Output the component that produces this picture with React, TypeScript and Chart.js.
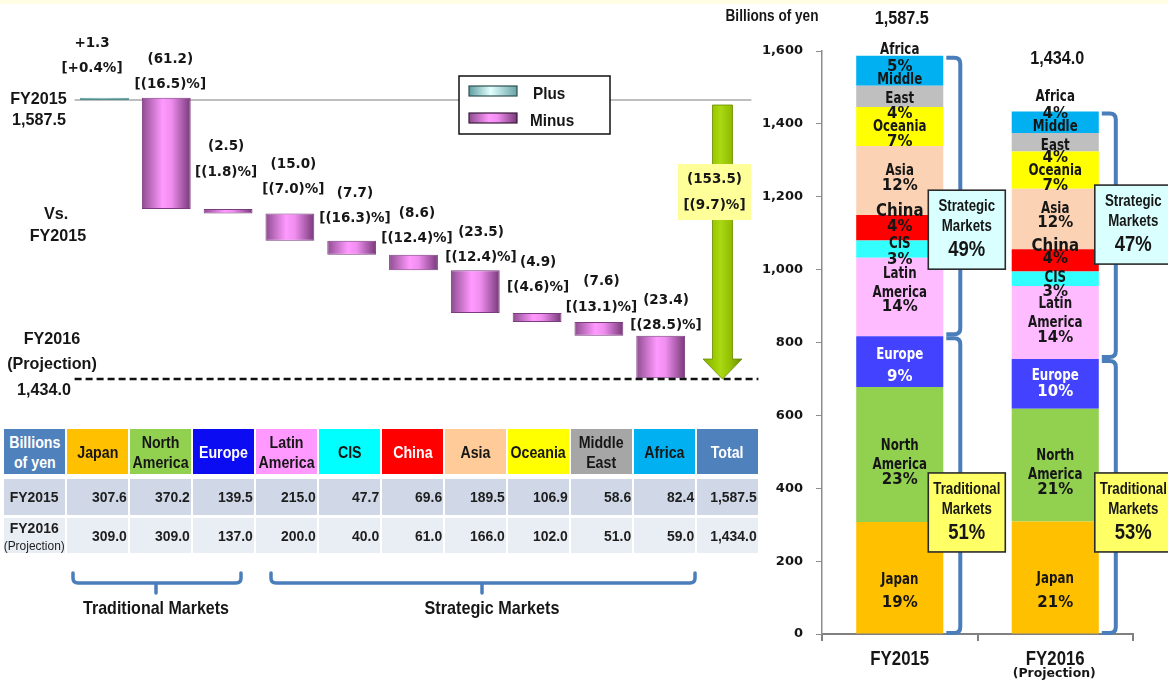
import React, { useEffect, useRef } from "react";
import { Chart, registerables } from "chart.js";

Chart.register(...registerables);

// ---------- Data ----------
// Regions in stacking / table order
const regions = ["Japan", "North America", "Europe", "Latin America", "CIS", "China", "Asia", "Oceania", "Middle East", "Africa"];
const fiscalYears = ["FY2015", "FY2016"];

// Net sales by region (billions of yen)
const sales2015 = [307.6, 370.2, 139.5, 215.0, 47.7, 69.6, 189.5, 106.9, 58.6, 82.4];
const sales2016 = [309.0, 309.0, 137.0, 200.0, 40.0, 61.0, 166.0, 102.0, 51.0, 59.0];
const total2015 = 1587.5;
const total2016 = 1434.0;

// Change vs. FY2015 by region
const changes = [1.3, -61.2, -2.5, -15.0, -7.7, -8.6, -23.5, -4.9, -7.6, -23.4];
const changeRates = ["+0.4%", "(16.5)%", "(1.8)%", "(7.0)%", "(16.3)%", "(12.4)%", "(12.4)%", "(4.6)%", "(13.1)%", "(28.5)%"];
const totalChange = -153.5;
const totalChangeRate = "(9.7)%";

// Share of total sales (%)
const share2015 = [19, 23, 9, 14, 3, 4, 12, 7, 4, 5];
const share2016 = [21, 21, 10, 14, 3, 4, 12, 7, 4, 4];
const traditionalShare = [51, 53];
const strategicShare = [49, 47];
const traditionalCount = 3; // Japan, North America, Europe

// Value axis
const yAxisMax = 1600;
const yAxisStep = 200;

// ---------- Styles ----------
const ARIAL = '"Liberation Sans", Arial, sans-serif';
const VERDANA = '"DejaVu Sans", Verdana, sans-serif';
const INK = "#161616";
const BRACE = "#4A7EBB";

const segmentColors = ["#FFC000", "#92D050", "#4343FF", "#FFBBFF", "#33FFFF", "#FF0000", "#FBD3B4", "#FFFF00", "#BFBFBF", "#00B0F0"];
const segmentInk = [INK, INK, "#FFFFFF", INK, INK, INK, INK, INK, INK, INK];
const headerColors = ["#FFC000", "#92D050", "#0C0CF2", "#FF99FF", "#00FFFF", "#FF0000", "#FFCC99", "#FFFF00", "#A6A6A6", "#00B0F0"];
const headerInk = [INK, INK, "#FFFFFF", INK, INK, "#FFFFFF", INK, INK, INK, INK];
const segmentNameLines = [["Japan"], ["North", "America"], ["Europe"], ["Latin", "America"], ["CIS"], ["China"], ["Asia"], ["Oceania"], ["Middle", "East"], ["Africa"]];

// Label placement (pixel offsets from each segment's centre, one per text line)
const segLabelDy = [
  [[2, 25], [-8.5, 10.5, 25.5], [-6.6, 15.4], [-23, -4, 10], [-5, 11], [-15.8, -0.8], [-9.6, 5.4], [0.4, 15.4], [-16.4, 2.6, 17.6], [-20.7, -3.7]],
  [[1.3, 25.3], [-9, 10, 25], [-8, 8], [-18.5, 0.5, 15.5], [-0.7, 13.3], [-13.3, -1.3], [-10, 4], [0.8, 15.8], [-15.3, 3.7, 15.7], [-25.2, -8.2]],
];
// Waterfall value label nudges: [dx from bar centre, dy from bar top]
const wfLabelNudge = [[-12.5, -54.6], [4, -38.6], [-2, -62], [3.5, -49.4], [3.3, -47.7], [3.5, -41.7], [5.7, -38.3], [1, -51], [2.6, -40], [5.3, -35.7]];

const WF_BAR_PCT = 0.79;
const plusStops: [number, string][] = [[0, "#5E9EA0"], [0.45, "#E2FFFF"], [1, "#67A3A6"]];
const minusStops: [number, string][] = [[0, "#8E4C90"], [0.42, "#FF99FF"], [0.6, "#F08EF0"], [1, "#763878"]];
const arrowStops: [number, string][] = [[0, "#86AE00"], [0.3, "#9DCC00"], [0.45, "#AAD814"], [0.7, "#94C000"], [1, "#6A8C00"]];

const fmt1 = (v: number) => v.toLocaleString("en-US", { minimumFractionDigits: 1, maximumFractionDigits: 1 });
const fmtChange = (c: number) => (c > 0 ? `+${c.toFixed(1)}` : `(${Math.abs(c).toFixed(1)})`);

function makeGradient(ctx: CanvasRenderingContext2D, x0: number, x1: number, stops: [number, string][]) {
  const g = ctx.createLinearGradient(x0, 0, x1, 0);
  stops.forEach(([o, c]) => g.addColorStop(o, c));
  return g;
}

function drawText(ctx: CanvasRenderingContext2D, text: string, x: number, y: number, font: string, color: string, sx = 1, align: CanvasTextAlign = "center") {
  ctx.save();
  ctx.font = font;
  ctx.fillStyle = color;
  ctx.textAlign = align;
  ctx.textBaseline = "middle";
  ctx.translate(x, y);
  ctx.scale(sx, 1);
  ctx.fillText(text, 0, 0);
  ctx.restore();
}

// ---------- Waterfall (change vs. FY2015) ----------
const wfCategories = [...regions, "Total"];

function buildFloating() {
  const out: ([number, number] | null)[] = [];
  let level = total2015;
  changes.forEach((c) => {
    out.push([level, level + c]);
    level += c;
  });
  out.push(null);
  return out;
}

const waterfallDecor = {
  id: "waterfallDecor",
  beforeDatasetsDraw(chart: any) {
    const { ctx, chartArea: a, scales } = chart;
    const yTop = scales.y.getPixelForValue(total2015);
    ctx.save();
    ctx.strokeStyle = "#A8A8A8";
    ctx.lineWidth = 1.5;
    ctx.beginPath();
    ctx.moveTo(a.left + 1, yTop);
    ctx.lineTo(a.right - 2, yTop);
    ctx.stroke();
    ctx.restore();
  },
  afterDatasetsDraw(chart: any) {
    const { ctx, chartArea: a, scales } = chart;
    const { x, y } = scales;
    const meta = chart.getDatasetMeta(0);
    const yStartTotal = y.getPixelForValue(total2015);
    const yEndTotal = y.getPixelForValue(total2016);

    // FY2016 level
    ctx.save();
    ctx.strokeStyle = "#111";
    ctx.lineWidth = 2.5;
    ctx.setLineDash([7, 4]);
    ctx.beginPath();
    ctx.moveTo(a.left + 1, yEndTotal);
    ctx.lineTo(a.right + 5, yEndTotal);
    ctx.stroke();
    ctx.restore();

    // Change labels
    const labelFont = `bold 13.5px ${VERDANA}`;
    changes.forEach((c, i) => {
      const el = meta.data[i];
      const top = Math.min(el.y, el.base);
      const [dx, dy] = wfLabelNudge[i];
      const lx = el.x + dx;
      const ly = top + dy;
      drawText(ctx, fmtChange(c), lx, ly, labelFont, INK);
      drawText(ctx, `[${changeRates[i]}]`, lx, ly + 25.5, labelFont, INK);
    });

    // Total change arrow
    const cx = x.getPixelForValue(regions.length);
    const top = yStartTotal + 5;
    const tip = yEndTotal;
    const headH = 20, headHalf = 19.5, shaftHalf = 10;
    ctx.save();
    ctx.beginPath();
    ctx.moveTo(cx - shaftHalf, top);
    ctx.lineTo(cx + shaftHalf, top);
    ctx.lineTo(cx + shaftHalf, tip - headH);
    ctx.lineTo(cx + headHalf, tip - headH);
    ctx.lineTo(cx, tip);
    ctx.lineTo(cx - headHalf, tip - headH);
    ctx.lineTo(cx - shaftHalf, tip - headH);
    ctx.closePath();
    ctx.fillStyle = makeGradient(ctx, cx - headHalf, cx + headHalf, arrowStops);
    ctx.fill();
    ctx.strokeStyle = "#6A8A00";
    ctx.lineWidth = 0.8;
    ctx.stroke();
    ctx.restore();

    const boxCy = (top + tip) / 2 - 50;
    const boxCx = cx - 8;
    ctx.fillStyle = "#FFFF99";
    ctx.fillRect(boxCx - 36.5, boxCy - 28, 73, 56);
    drawText(ctx, `(${Math.abs(totalChange).toFixed(1)})`, boxCx, boxCy - 13, labelFont, INK);
    drawText(ctx, `[${totalChangeRate}]`, boxCx, boxCy + 13, labelFont, INK);

    // Legend
    ctx.save();
    ctx.fillStyle = "#FFFFFF";
    ctx.fillRect(459, 76, 151, 58);
    ctx.strokeStyle = "#111";
    ctx.lineWidth = 1.5;
    ctx.strokeRect(459, 76, 151, 58);
    const swatch = (sy: number, stops: [number, string][], edge: string) => {
      ctx.fillStyle = makeGradient(ctx, 469, 517, stops);
      ctx.fillRect(469, sy, 48, 10);
      ctx.strokeStyle = edge;
      ctx.lineWidth = 1.2;
      ctx.strokeRect(469, sy, 48, 10);
    };
    swatch(86, plusStops, "#2F4F4F");
    swatch(113, minusStops, "#3A1A3A");
    ctx.restore();
    drawText(ctx, "Plus", 533, 94, `bold 17px ${ARIAL}`, INK, 0.9, "left");
    drawText(ctx, "Minus", 530, 121, `bold 17px ${ARIAL}`, INK, 0.9, "left");

    // Side titles
    const sideFont = `bold 17px ${ARIAL}`;
    drawText(ctx, "FY2015", 38.5, yStartTotal - 1, sideFont, INK, 0.95);
    drawText(ctx, fmt1(total2015), 39, yStartTotal + 20, sideFont, INK, 0.95);
    drawText(ctx, "Vs.", 56, 214, sideFont, INK, 0.95);
    drawText(ctx, "FY2015", 58, 236, sideFont, INK, 0.95);
    drawText(ctx, "FY2016", 52, yEndTotal - 40, sideFont, INK, 0.95);
    drawText(ctx, "(Projection)", 52, yEndTotal - 15, sideFont, INK, 0.95);
    drawText(ctx, fmt1(total2016), 44, yEndTotal + 11, sideFont, INK, 0.95);
  },
};

function waterfallConfig(): any {
  return {
    type: "bar",
    data: {
      labels: wfCategories,
      datasets: [
        {
          data: buildFloating(),
          barPercentage: WF_BAR_PCT,
          categoryPercentage: 1,
          borderWidth: 1,
          borderSkipped: false,
          borderColor: (c: any) => (changes[c.dataIndex] > 0 ? "#4F8F90" : "#7A3C7E"),
          backgroundColor: (c: any) => {
            const chart = c.chart;
            const i = c.dataIndex;
            const plus = changes[i] > 0;
            const area = chart.chartArea;
            if (!area || i == null) return plus ? "#BEEFEF" : "#E08AE0";
            const cx = chart.scales.x.getPixelForValue(i);
            const half = ((area.right - area.left) / wfCategories.length) * WF_BAR_PCT / 2;
            return makeGradient(chart.ctx, cx - half, cx + half, plus ? plusStops : minusStops);
          },
        },
      ],
    },
    options: {
      responsive: false,
      animation: false,
      events: [],
      layout: { padding: { left: 73.6, right: 16.6, top: 77.3, bottom: 4.6 } },
      plugins: { legend: { display: false }, tooltip: { enabled: false } },
      scales: {
        x: { display: false },
        y: { display: false, min: 1425, max: 1600 },
      },
    },
    plugins: [waterfallDecor],
  };
}

// ---------- Stacked composition chart ----------
const salesByYear = [sales2015, sales2016];
const shareByYear = [share2015, share2016];
const totalByYear = [total2015, total2016];
const totalLift = [37, 52];
const calloutDx = [-15, -4];
const strategicBoxTop = [1218, 1232];
const traditionalBoxTop = [442, 442];

const stackDecor = {
  id: "stackDecor",
  afterDatasetsDraw(chart: any) {
    const { ctx, scales } = chart;
    const { y } = scales;
    const zeroY = y.getPixelForValue(0);

    fiscalYears.forEach((_, j) => {
      // Segment labels
      regions.forEach((__, k) => {
        const el = chart.getDatasetMeta(k).data[j];
        const cy = (el.y + el.base) / 2;
        const lines = [...segmentNameLines[k], `${shareByYear[j][k]}%`];
        const dys = segLabelDy[j][k];
        lines.forEach((t, n) => {
          const isPct = n === lines.length - 1;
          const big = k === 5 && !isPct;
          const font = isPct ? `bold 15px ${VERDANA}` : big ? `bold 17px ${VERDANA}` : `bold 15px ${VERDANA}`;
          const sx = isPct ? 1 : big ? 0.88 : 0.79;
          drawText(ctx, t, el.x, cy + dys[n], font, segmentInk[k], sx);
        });
      });

      const topEl = chart.getDatasetMeta(regions.length - 1).data[j];
      const tradEl = chart.getDatasetMeta(traditionalCount - 1).data[j];
      const right = topEl.x + topEl.width / 2;
      const totalTop = topEl.y;
      const tradTop = tradEl.y;

      // Market group brackets
      const bracket = (t: number, b: number) => {
        const l = right + 3, r = right + 17, rad = 6;
        ctx.beginPath();
        ctx.moveTo(l, t);
        ctx.lineTo(r - rad, t);
        ctx.quadraticCurveTo(r, t, r, t + rad);
        ctx.lineTo(r, b - rad);
        ctx.quadraticCurveTo(r, b, r - rad, b);
        ctx.lineTo(l, b);
        ctx.stroke();
      };
      ctx.save();
      ctx.strokeStyle = BRACE;
      ctx.lineWidth = 4;
      ctx.lineJoin = "round";
      bracket(totalTop + 2, tradTop - 2);
      bracket(tradTop + 2, zeroY - 1);
      ctx.restore();

      // Callout boxes
      const box = (top: number, fill: string, l1: string, l2: string, pct: number) => {
        const bx = right + calloutDx[j];
        ctx.save();
        ctx.fillStyle = fill;
        ctx.fillRect(bx, top, 77, 79);
        ctx.strokeStyle = "#2B2B2B";
        ctx.lineWidth = 1.6;
        ctx.strokeRect(bx, top, 77, 79);
        ctx.restore();
        const cx = bx + 38.5;
        drawText(ctx, l1, cx, top + 16, `bold 17px ${ARIAL}`, INK, 0.78);
        drawText(ctx, l2, cx, top + 36, `bold 17px ${ARIAL}`, INK, 0.78);
        drawText(ctx, `${pct}%`, cx, top + 60, `bold 22px ${ARIAL}`, INK, 0.84);
      };
      box(y.getPixelForValue(strategicBoxTop[j]), "#D9FFFF", "Strategic", "Markets", strategicShare[j]);
      box(y.getPixelForValue(traditionalBoxTop[j]), "#FFFF66", "Traditional", "Markets", traditionalShare[j]);

      // Totals
      drawText(ctx, fmt1(totalByYear[j]), topEl.x + 2, totalTop - totalLift[j], `bold 18px ${ARIAL}`, INK, 0.9);
    });
  },
  afterDraw(chart: any) {
    const { ctx, scales } = chart;
    const { x } = scales;
    drawText(ctx, "Billions of yen", 52, 17, `bold 16px ${ARIAL}`, INK, 0.85);
    drawText(ctx, fiscalYears[0], x.getPixelForValue(0), 659, `bold 20px ${ARIAL}`, INK, 0.84);
    drawText(ctx, fiscalYears[1], x.getPixelForValue(1), 659, `bold 20px ${ARIAL}`, INK, 0.84);
    drawText(ctx, "(Projection)", x.getPixelForValue(1) - 1, 674, `bold 13px ${VERDANA}`, INK, 0.96);
  },
};

function stackConfig(): any {
  return {
    type: "bar",
    data: {
      labels: fiscalYears,
      datasets: regions.map((r, k) => ({
        label: r,
        data: salesByYear.map((s) => s[k]),
        backgroundColor: segmentColors[k],
        borderWidth: 0,
        barPercentage: 0.56,
        categoryPercentage: 1,
      })),
    },
    options: {
      responsive: false,
      animation: false,
      events: [],
      layout: { padding: { left: 0, right: 35, top: 51, bottom: 0 } },
      plugins: { legend: { display: false }, tooltip: { enabled: false } },
      scales: {
        x: {
          stacked: true,
          ticks: { display: false },
          grid: { display: true, drawOnChartArea: false, drawTicks: true, tickLength: 7, color: "#808080", lineWidth: 2, offset: true },
          border: { display: true, color: "#808080", width: 2 },
          afterFit: (s: any) => {
            s.height = 64;
          },
        },
        y: {
          stacked: true,
          min: 0,
          max: yAxisMax,
          ticks: { stepSize: yAxisStep, color: INK, padding: 13, font: { family: VERDANA, weight: "bold", size: 13 } },
          grid: { drawOnChartArea: false, drawTicks: true, tickLength: 6, color: "#8C8C8C" },
          border: { display: true, color: "#8C8C8C", width: 1.5 },
          afterFit: (s: any) => {
            s.width = 102;
          },
        },
      },
    },
    plugins: [stackDecor],
  };
}

// ---------- Table ----------
function RegionTable() {
  const font = ARIAL;
  const headers = [
    { text: "Billions\nof yen", bg: "#4F81BD", fg: "#FFFFFF" },
    ...regions.map((r, i) => ({ text: r.replace(" ", "\n"), bg: headerColors[i], fg: headerInk[i] })),
    { text: "Total", bg: "#4F81BD", fg: "#FFFFFF" },
  ];
  const cell = (extra: any) => ({
    width: 61,
    flex: "0 0 61px",
    display: "flex",
    alignItems: "center",
    boxSizing: "border-box" as const,
    ...extra,
  });
  const num = (v: string) => (
    <span style={{ display: "inline-block", transform: "scaleX(0.9)", transformOrigin: "right center", fontWeight: "bold", fontSize: 15.5, color: "#1E1E1E", whiteSpace: "pre" }}>{v}</span>
  );
  const row = (label: any, values: number[], total: number, bg: string, h: number, mt: number) => (
    <div style={{ display: "flex", gap: 2, height: h, marginTop: mt }}>
      <div style={cell({ background: bg, justifyContent: "center", height: h })}>{label}</div>
      {values.map((v, i) => (
        <div key={i} style={cell({ background: bg, justifyContent: "flex-end", paddingRight: 1, height: h })}>
          {num(fmt1(v))}
        </div>
      ))}
      <div style={cell({ background: bg, justifyContent: "flex-end", paddingRight: 1, height: h })}>{num(fmt1(total))}</div>
    </div>
  );
  return (
    <div style={{ position: "absolute", left: 4, top: 429, fontFamily: font }}>
      <div style={{ display: "flex", gap: 2, height: 45 }}>
        {headers.map((h, i) => (
          <div key={i} style={cell({ background: h.bg, justifyContent: "center", height: 45 })}>
            <span style={{ display: "inline-block", whiteSpace: "pre", textAlign: "center", transform: "scaleX(0.86)", fontWeight: "bold", fontSize: 16.5, lineHeight: "20px", color: h.fg }}>
              {h.text}
            </span>
          </div>
        ))}
      </div>
      {row(
        <span style={{ display: "inline-block", transform: "scaleX(0.9)", fontWeight: "bold", fontSize: 15.5, color: "#1E1E1E" }}>{fiscalYears[0]}</span>,
        sales2015, total2015, "#D0D8E8", 36, 5
      )}
      {row(
        <span style={{ display: "inline-block", textAlign: "center", color: "#1E1E1E" }}>
          <span style={{ display: "block", transform: "scaleX(0.9)", fontWeight: "bold", fontSize: 15.5, lineHeight: "19px" }}>{fiscalYears[1]}</span>
          <span style={{ display: "block", transform: "scaleX(0.92)", fontSize: 13, lineHeight: "17px" }}>(Projection)</span>
        </span>,
        sales2016, total2016, "#E9EDF4", 35, 3
      )}
    </div>
  );
}

function MarketBraces() {
  const textProps = { textAnchor: "middle" as const, dominantBaseline: "central" as const, fontFamily: ARIAL, fontWeight: "bold", fontSize: 18, fill: INK };
  return (
    <svg width={770} height={70} style={{ position: "absolute", left: 0, top: 560 }}>
      <g fill="none" stroke={BRACE} strokeWidth={3.5} strokeLinecap="round" strokeLinejoin="round">
        <path d="M73 13 V18 Q73 23 78 23 H236 Q241 23 241 18 V13 M156 23 V33" />
        <path d="M271 13 V18 Q271 23 276 23 H690 Q695 23 695 18 V13 M482 23 V33" />
      </g>
      <text transform="translate(156 48) scale(0.89 1)" {...textProps}>Traditional Markets</text>
      <text transform="translate(492 48) scale(0.9 1)" {...textProps}>Strategic Markets</text>
    </svg>
  );
}

export default function App() {
  const wfRef = useRef<HTMLCanvasElement>(null);
  const stackRef = useRef<HTMLCanvasElement>(null);

  useEffect(() => {
    const wf = new Chart(wfRef.current as HTMLCanvasElement, waterfallConfig());
    const st = new Chart(stackRef.current as HTMLCanvasElement, stackConfig());
    return () => {
      wf.destroy();
      st.destroy();
    };
  }, []);

  return (
    <div style={{ position: "absolute", left: 0, top: 0, width: 1168, height: 698, overflow: "hidden", background: "#FFFFFF" }}>
      <div style={{ position: "absolute", left: 0, top: 0, width: 1168, height: 4, background: "#FFFDE3" }} />
      <canvas ref={stackRef} width={448} height={698} style={{ position: "absolute", left: 720, top: 0 }} />
      <canvas ref={wfRef} width={770} height={400} style={{ position: "absolute", left: 0, top: 0 }} />
      <RegionTable />
      <MarketBraces />
    </div>
  );
}
